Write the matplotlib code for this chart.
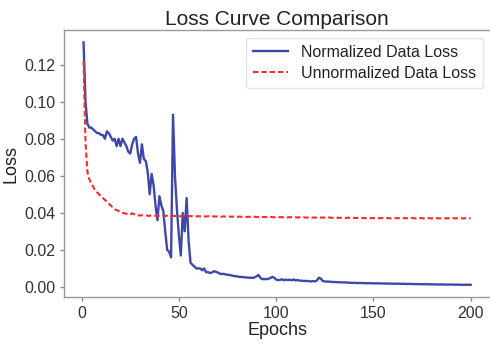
import matplotlib
matplotlib.use("Agg")
import matplotlib.pyplot as plt

plt.rcParams['font.family'] = ['Liberation Sans', 'DejaVu Sans']

epochs = list(range(1, 201))

normalized_loss = [
    0.132, 0.100, 0.088, 0.086, 0.086, 0.085, 0.084, 0.083, 0.083, 0.082,
    0.082, 0.080, 0.084, 0.083, 0.081, 0.079, 0.080, 0.076, 0.080, 0.076,
    0.080, 0.078, 0.076, 0.073, 0.072, 0.077, 0.080, 0.081, 0.072, 0.067,
    0.077, 0.069, 0.068, 0.062, 0.050, 0.061, 0.055, 0.044, 0.036, 0.049,
    0.044, 0.041, 0.030, 0.020, 0.019, 0.016, 0.093, 0.060, 0.042, 0.028,
    0.017, 0.040, 0.030, 0.048, 0.025, 0.013, 0.012, 0.011, 0.010, 0.010,
    0.010, 0.009, 0.010, 0.008, 0.008, 0.0075, 0.0078, 0.0085, 0.0082, 0.0078,
    0.0072, 0.0070, 0.0071, 0.0068, 0.0066, 0.0065, 0.0062, 0.0060, 0.0058, 0.0057,
    0.0055, 0.0054, 0.0053, 0.0052, 0.0051, 0.0050, 0.0050, 0.0049, 0.0052, 0.0058,
    0.0065, 0.0048, 0.0042, 0.0043, 0.0042, 0.0044, 0.0048, 0.0055, 0.0050, 0.0040,
    0.0037, 0.0038, 0.0042, 0.0036, 0.0040, 0.0037, 0.0039, 0.0036, 0.0041, 0.0035,
    0.0038, 0.0034, 0.0034, 0.0033, 0.0032, 0.0033, 0.0031, 0.0030, 0.0032, 0.0030,
    0.0036, 0.0050, 0.0045, 0.0032, 0.0030, 0.0029, 0.0029, 0.0028, 0.0027, 0.0027,
    0.0026, 0.0026, 0.0025, 0.0025, 0.0024, 0.0025, 0.0023, 0.0023, 0.0022, 0.0022,
    0.0022, 0.0021, 0.0022, 0.0021, 0.0021, 0.0020, 0.0021, 0.0020, 0.0020, 0.0020,
    0.0019, 0.0020, 0.0019, 0.0019, 0.0019, 0.0018, 0.0019, 0.0018, 0.0018, 0.0018,
    0.0018, 0.0017, 0.0018, 0.0017, 0.0017, 0.0017, 0.0016, 0.0017, 0.0016, 0.0016,
    0.0016, 0.0015, 0.0016, 0.0015, 0.0015, 0.0015, 0.0015, 0.0014, 0.0015, 0.0014,
    0.0014, 0.0014, 0.0014, 0.0013, 0.0014, 0.0013, 0.0013, 0.0013, 0.0013, 0.0013,
    0.0013, 0.0012, 0.0013, 0.0012, 0.0012, 0.0012, 0.0012, 0.0012, 0.0012, 0.0012,
]

unnormalized_loss = [
    0.122, 0.078, 0.062, 0.058, 0.056, 0.054, 0.052, 0.051, 0.050, 0.049,
    0.048, 0.047, 0.046, 0.045, 0.044, 0.043, 0.042, 0.0415, 0.041, 0.0405,
    0.0400, 0.0398, 0.0395, 0.0392, 0.0390, 0.0398, 0.0393, 0.0388, 0.0387, 0.0386,
    0.0387, 0.0385, 0.0386, 0.0385, 0.0384, 0.0386, 0.0385, 0.0384, 0.0385, 0.0384,
    0.0385, 0.0384, 0.0383, 0.0385, 0.0384, 0.0383, 0.0384, 0.0383, 0.0384, 0.0383,
    0.0382, 0.0384, 0.0383, 0.0382, 0.0383, 0.0382, 0.0383, 0.0382, 0.0381, 0.0382,
    0.0381, 0.0382, 0.0381, 0.0380, 0.0382, 0.0381, 0.0380, 0.0381, 0.0380, 0.0381,
    0.0380, 0.0379, 0.0381, 0.0380, 0.0379, 0.0380, 0.0379, 0.0380, 0.0379, 0.0378,
    0.0380, 0.0379, 0.0378, 0.0379, 0.0378, 0.0379, 0.0378, 0.0377, 0.0379, 0.0378,
    0.0377, 0.0378, 0.0377, 0.0378, 0.0377, 0.0376, 0.0378, 0.0377, 0.0376, 0.0377,
    0.0376, 0.0377, 0.0376, 0.0377, 0.0376, 0.0375, 0.0377, 0.0376, 0.0375, 0.0376,
    0.0375, 0.0376, 0.0375, 0.0376, 0.0375, 0.0374, 0.0376, 0.0375, 0.0374, 0.0375,
    0.0374, 0.0375, 0.0374, 0.0375, 0.0374, 0.0373, 0.0375, 0.0374, 0.0373, 0.0374,
    0.0373, 0.0374, 0.0373, 0.0374, 0.0373, 0.0372, 0.0374, 0.0373, 0.0372, 0.0373,
    0.0372, 0.0373, 0.0372, 0.0373, 0.0372, 0.0371, 0.0373, 0.0372, 0.0371, 0.0372,
    0.0371, 0.0372, 0.0371, 0.0372, 0.0371, 0.0370, 0.0372, 0.0371, 0.0370, 0.0371,
    0.0371, 0.0372, 0.0371, 0.0370, 0.0371, 0.0372, 0.0371, 0.0370, 0.0371, 0.0372,
    0.0371, 0.0370, 0.0371, 0.0372, 0.0371, 0.0370, 0.0371, 0.0372, 0.0371, 0.0370,
    0.0371, 0.0372, 0.0371, 0.0370, 0.0371, 0.0372, 0.0371, 0.0370, 0.0371, 0.0372,
    0.0371, 0.0370, 0.0371, 0.0372, 0.0371, 0.0370, 0.0371, 0.0372, 0.0371, 0.0370,
]

title = "Loss Curve Comparison"
xlabel = "Epochs"
ylabel = "Loss"
label_norm = "Normalized Data Loss"
label_unnorm = "Unnormalized Data Loss"

fig = plt.figure(figsize=(4.9, 3.44), dpi=100)
ax = fig.add_axes([0.131, 0.137, 0.869, 0.775])

ax.plot(epochs, normalized_loss, color='#3d48a8', linewidth=1.7, label=label_norm)
ax.plot(epochs, unnormalized_loss, color='#ff2a2a', linewidth=1.5, linestyle='--',
        dashes=(2.6, 1.4), label=label_unnorm)

ax.set_title(title, fontsize=15, color='#222222', pad=4)
ax.set_xlabel(xlabel, fontsize=13, color='#222222', labelpad=1)
ax.set_ylabel(ylabel, fontsize=13, color='#222222', labelpad=3)
ax.set_xticks([0, 50, 100, 150, 200])
ax.set_yticks([0.00, 0.02, 0.04, 0.06, 0.08, 0.10, 0.12])
ax.set_yticklabels([f"{v:.2f}" for v in [0.00, 0.02, 0.04, 0.06, 0.08, 0.10, 0.12]])
ax.tick_params(labelsize=11.5, colors='#888888', labelcolor='#333333',
               length=3, width=1)

for side in ['left', 'bottom', 'top']:
    ax.spines[side].set_color('#999999')
    ax.spines[side].set_linewidth(1.0)
ax.spines['right'].set_visible(False)

leg = ax.legend(loc='upper right', fontsize=11.5, frameon=True, fancybox=True,
                borderpad=0.45, handlelength=2.2, labelspacing=0.35,
                borderaxespad=0.3, bbox_to_anchor=(0.995, 0.99))
leg.get_frame().set_edgecolor('#dddddd')
for t in leg.get_texts():
    t.set_color('#222222')

fig.savefig('out.png', dpi=100)
